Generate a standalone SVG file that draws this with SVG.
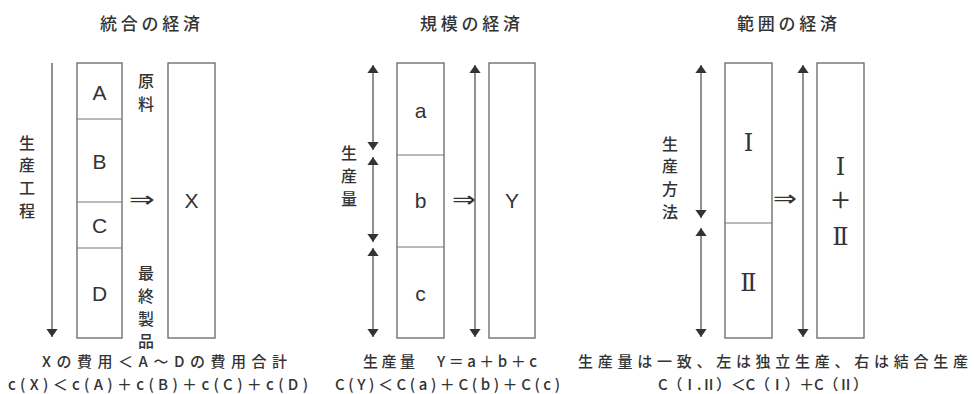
<svg xmlns="http://www.w3.org/2000/svg" width="974" height="394" viewBox="0 0 974 394">
<style>
.bg{fill:#fff}
.box{fill:#fff;stroke:#666;stroke-width:1.3}
.div{stroke:#777;stroke-width:1.1;fill:none}
.ln{stroke:#555;stroke-width:1.3;fill:none}
.jp{font-family:"Noto Sans CJK JP","Noto Sans",sans-serif;font-weight:500;fill:#333;text-anchor:middle;dominant-baseline:central}
.t{font-size:17px}
.v{font-size:16px}
.b{font-size:15px}
.lat{font-family:"Liberation Sans",Arial,sans-serif;fill:#333;font-size:21px;text-anchor:middle;dominant-baseline:central}
.rom{font-family:"DejaVu Serif","Noto Sans CJK JP",serif;fill:#333;font-size:24px;text-anchor:middle;dominant-baseline:central}
.imp{font-family:"DejaVu Sans","Noto Sans",sans-serif;fill:#333;font-size:22px;text-anchor:middle;dominant-baseline:central}
</style>
<defs>
<marker id="ah" viewBox="0 0 10 14" refX="10" refY="7" markerWidth="8" markerHeight="13" markerUnits="userSpaceOnUse" orient="auto-start-reverse">
<path d="M0,0 L10,7 L0,14 Z" fill="#333"/>
</marker>
</defs>
<rect class="bg" width="974" height="394"/>

<!-- Panel 1 -->
<text id="title1" class="jp t" x="150" y="22" textLength="100" lengthAdjust="spacing">統合の経済</text>
<g id="chain">
<rect class="box" x="77" y="63" width="45" height="275"/>
<line class="div" x1="77" y1="119" x2="122" y2="119"/>
<line class="div" x1="77" y1="202" x2="122" y2="202"/>
<line class="div" x1="77" y1="248" x2="122" y2="248"/>
<text class="lat" x="99.5" y="92">A</text>
<text class="lat" x="99.5" y="161">B</text>
<text class="lat" x="99.5" y="225">C</text>
<text class="lat" x="99.5" y="293">D</text>
</g>
<g id="boxX">
<rect class="box" x="168" y="63" width="47" height="275"/>
<text class="lat" x="191.5" y="200">X</text>
</g>
<g id="label1">
<text class="jp v" x="27" y="142">生</text>
<text class="jp v" x="27" y="164">産</text>
<text class="jp v" x="27" y="187">工</text>
<text class="jp v" x="27" y="210">程</text>
<text class="jp v" x="146" y="80">原</text>
<text class="jp v" x="146" y="103">料</text>
<text class="jp v" x="146" y="272">最</text>
<text class="jp v" x="146" y="295">終</text>
<text class="jp v" x="146" y="318">製</text>
<text class="jp v" x="146" y="340">品</text>
<text class="imp" x="142" y="199" transform="translate(142 199) scale(1.4 1) translate(-142 -199)">⇒</text>
</g>
<g id="caption1">
<text class="jp b" x="164.5" y="360.5" textLength="245" lengthAdjust="spacing">Xの費用＜A～Dの費用合計</text>
<text class="jp b" x="158" y="383.5" textLength="300" lengthAdjust="spacing">c(X)＜c(A)＋c(B)＋c(C)＋c(D)</text>
</g>

<!-- Panel 2 -->
<text id="title2" class="jp t" x="470" y="22" textLength="100" lengthAdjust="spacing">規模の経済</text>
<g id="scaleBox">
<rect class="box" x="397" y="63" width="47" height="275"/>
<line class="div" x1="397" y1="155" x2="444" y2="155"/>
<line class="div" x1="397" y1="247" x2="444" y2="247"/>
<text class="lat" x="420.5" y="110">a</text>
<text class="lat" x="420.5" y="200">b</text>
<text class="lat" x="420.5" y="293">c</text>
</g>
<g id="boxY">
<rect class="box" x="489" y="63" width="46" height="275"/>
<text class="lat" x="512" y="200">Y</text>
</g>
<g id="label2">
<text class="jp v" x="349" y="152">生</text>
<text class="jp v" x="349" y="175">産</text>
<text class="jp v" x="349" y="198">量</text>
<text class="imp" x="464" y="199" transform="translate(464 199) scale(1.3 1) translate(-464 -199)">⇒</text>
</g>
<g id="caption2">
<text class="jp b" x="450" y="360.5" textLength="174" lengthAdjust="spacing">生産量　Y＝a＋b＋c</text>
<text class="jp b" x="447.5" y="383.5" textLength="225" lengthAdjust="spacing">C(Y)＜C(a)＋C(b)＋C(c)</text>
</g>

<!-- Panel 3 -->
<text id="title3" class="jp t" x="787" y="22" textLength="100" lengthAdjust="spacing">範囲の経済</text>
<g id="scopeBox">
<rect class="box" x="725" y="63" width="47" height="275"/>
<line class="div" x1="725" y1="223" x2="772" y2="223"/>
<text class="rom" x="748.5" y="143">Ⅰ</text>
<text class="rom" x="748.5" y="283">Ⅱ</text>
</g>
<g id="boxI2">
<rect class="box" x="817" y="63" width="47" height="275"/>
<text class="rom" x="840.5" y="167">Ⅰ</text>
<text class="jp" x="840.5" y="198" font-size="22">＋</text>
<text class="rom" x="840.5" y="237">Ⅱ</text>
</g>
<g id="label3">
<text class="jp v" x="670" y="143">生</text>
<text class="jp v" x="670" y="165">産</text>
<text class="jp v" x="670" y="188">方</text>
<text class="jp v" x="670" y="211">法</text>
<text class="imp" x="785" y="198" transform="translate(785 198) scale(1.3 1) translate(-785 -198)">⇒</text>
</g>
<g id="caption3">
<text class="jp b" x="773" y="360.5" textLength="390" lengthAdjust="spacing">生産量は一致、左は独立生産、右は結合生産</text>
<text class="jp b" x="763" y="383.5" textLength="210" lengthAdjust="spacing">C（Ⅰ.Ⅱ）＜C（Ⅰ）＋C（Ⅱ）</text>
</g>

<g id="connectors">
<line class="ln" x1="52" y1="63" x2="52" y2="337" marker-end="url(#ah)"/>
<line class="ln" x1="373" y1="65" x2="373" y2="150" marker-start="url(#ah)" marker-end="url(#ah)"/>
<line class="ln" x1="373" y1="157" x2="373" y2="242" marker-start="url(#ah)" marker-end="url(#ah)"/>
<line class="ln" x1="373" y1="248" x2="373" y2="337" marker-start="url(#ah)" marker-end="url(#ah)"/>
<line class="ln" x1="475" y1="65" x2="475" y2="337" marker-start="url(#ah)" marker-end="url(#ah)"/>
<line class="ln" x1="701" y1="65" x2="701" y2="218" marker-start="url(#ah)" marker-end="url(#ah)"/>
<line class="ln" x1="701" y1="228" x2="701" y2="337" marker-start="url(#ah)" marker-end="url(#ah)"/>
<line class="ln" x1="803" y1="65" x2="803" y2="337" marker-start="url(#ah)" marker-end="url(#ah)"/>
</g>
</svg>
